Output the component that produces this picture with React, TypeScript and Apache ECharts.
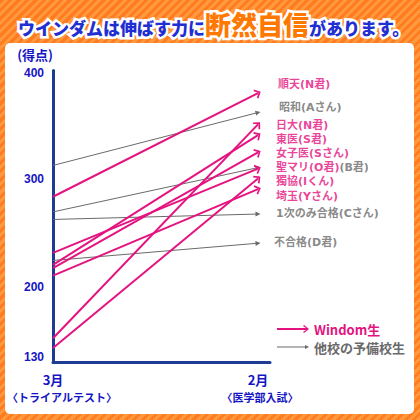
import React, { useEffect, useRef } from 'react';
import * as echarts from 'echarts';

// ---- data ----
const xTicks = [0, 1];
const xMonth = ['3月', '2月'];
const xStage = ['〈トライアルテスト〉', '〈医学部入試〉'];
const yTicks = [130, 200, 300, 400];

const windomNames = ['順天(N君)', '日大(N君)', '東医(S君)', '女子医(Sさん)', '聖マリ(O君)', '獨協(Iくん)', '埼玉(Yさん)'];
const windomMarch = [283, 152, 220, 217, 231, 143, 210];
const windomFeb = [379, 350, 340, 324, 309, 300, 290];

const otherNames = ['昭和(Aさん)', '(B君)', '1次のみ合格(Cさん)', '不合格(D君)'];
const otherMarch = [312, 269, 262, 224];
const otherFeb = [361, 310, 267, 240];

const legendNames = ['Windom生', '他校の予備校生'];

// ---- styles ----
const PINK = '#e4137f';
const GRAY = '#6a6a6a';
const BLUE = '#1515c4';
const NAVY = '#1f3c95';
const FONT = "'Noto Sans CJK JP', 'Noto Sans', sans-serif";
const LABEL_FONT = "'DejaVu Sans', 'Noto Sans CJK JP', sans-serif";

// label nudges [dx, dy] (style only)
const windomNudge = [[2, -9], [0, 1], [0, 4], [0, 1], [0, -1], [0, 3], [0, 7]];
const otherNudge = [[3, -5], null, [0, -1], [-2, -1]];

const pinkHead = 'path://M5,2 L10,7 L8.7,8.1 L5,4.4 L1.3,8.1 L0,7 Z M5,0 L5,0.01 Z M5,10 L5,10.01 Z';
const grayHead = 'path://M5,0 L10,10 L0,10 Z';
const pinkIcon = 'path://M0,3 L29,3 L26,1 L27,0 L32,4 L27,8 L26,7 L29,5 L0,5 Z';
const grayIcon = 'path://M0,3.5 L28,3.5 L28,2 L32,4 L28,6 L28,4.5 L0,4.5 Z';

export default function App() {
  const ref = useRef<HTMLDivElement>(null);

  useEffect(() => {
    if (!ref.current) return;
    const chart = echarts.init(ref.current, undefined, { renderer: 'svg' });

    const labelData: any[] = [];
    windomNames.forEach((n, i) => {
      const fmt = i === 4 ? `{p|${n}}{g|${otherNames[1]}}` : `{p|${n}}`;
      labelData.push({
        value: [1, windomFeb[i]],
        label: { formatter: fmt, offset: windomNudge[i] },
      });
    });
    otherNames.forEach((n, i) => {
      if (!otherNudge[i]) return;
      labelData.push({
        value: [1, otherFeb[i]],
        label: { formatter: `{g|${n}}`, offset: otherNudge[i] },
      });
    });

    const yLabelStyle = {
      fontFamily: 'Liberation Sans, Arial, sans-serif',
      fontSize: 12,
      fontWeight: 'bold',
      color: BLUE,
      lineHeight: 12,
    };

    const option: any = {
      animation: false,
      backgroundColor: 'transparent',
      title: {
        text: '{a|ウインダムは伸ばす力に}{b|断然自信}{a|があります。}',
        left: 13,
        top: 5,
        textStyle: {
          rich: {
            a: {
              fontFamily: FONT, fontSize: 17, fontWeight: 900, color: '#1f2fd2',
              textBorderColor: '#ffffff', textBorderWidth: 5, verticalAlign: 'bottom',
            },
            b: {
              fontFamily: FONT, fontSize: 26, fontWeight: 900, color: '#ff7800',
              textBorderColor: '#ffffff', textBorderWidth: 5, verticalAlign: 'bottom',
            },
          },
        },
      },
      graphic: [
        {
          type: 'rect', z: -10,
          shape: { x: 5, y: 43, width: 409, height: 371, r: 5 },
          style: { fill: '#ffffff' },
        },
      ],
      legend: {
        left: 272,
        top: 317,
        orient: 'vertical',
        itemWidth: 32,
        itemHeight: 8,
        itemGap: 4,
        selectedMode: false,
        textStyle: { fontFamily: FONT, fontSize: 13, lineHeight: 14, fontWeight: 'bold' },
        data: [
          { name: legendNames[0], icon: pinkIcon, itemStyle: { color: PINK, borderWidth: 0 }, textStyle: { color: PINK } },
          { name: legendNames[1], icon: grayIcon, itemStyle: { color: GRAY, borderWidth: 0 }, textStyle: { color: GRAY } },
        ],
      },
      grid: { left: 53, right: 150, top: 70.4, bottom: 58, containLabel: false, outerBoundsMode: 'none' },
      xAxis: {
        type: 'value',
        min: 0,
        max: 1.0585,
        axisLine: { show: true, lineStyle: { color: NAVY, width: 3 } },
        axisTick: { show: false },
        splitLine: { show: false },
        axisLabel: {
          customValues: xTicks,
          margin: 8,
          formatter: (v: number) => {
            const i = xTicks.indexOf(v);
            if (i < 0) return '';
            return `{m|${xMonth[i]}}\n{s${i}|${xStage[i]}}`;
          },
          rich: {
            m: { fontFamily: FONT, fontSize: 13, fontWeight: 'bold', color: BLUE, lineHeight: 18 },
            s0: { fontFamily: FONT, fontSize: 11, fontWeight: 'bold', color: BLUE, lineHeight: 18, padding: [0, 0, 0, 18] },
            s1: { fontFamily: FONT, fontSize: 11, fontWeight: 'bold', color: BLUE, lineHeight: 18, padding: [0, 0, 0, 4] },
          },
        },
      },
      yAxis: {
        type: 'value',
        min: 130,
        max: 400,
        name: '(得点)',
        nameLocation: 'end',
        nameGap: 9,
        nameTextStyle: { fontFamily: FONT, fontSize: 13, lineHeight: 13, fontWeight: 'bold', color: BLUE, align: 'right', padding: [0, 0, 0, 0] },
        axisLine: { show: true, lineStyle: { color: NAVY, width: 3 } },
        axisTick: { show: false },
        splitLine: { show: false },
        axisLabel: {
          customValues: yTicks,
          margin: 9,
          formatter: (v: number) => {
            if (v === yTicks[0]) return `{lo|${v}}`;
            if (v === yTicks[yTicks.length - 1]) return `{hi|${v}}`;
            return `{n|${v}}`;
          },
          rich: {
            n: { ...yLabelStyle, padding: [2, 0, 0, 0] },
            lo: { ...yLabelStyle, padding: [0, 0, 10, 0] },
            hi: { ...yLabelStyle, padding: [5, 0, 0, 0] },
          },
        },
      },
      series: [
        {
          type: 'lines',
          name: legendNames[1],
          coordinateSystem: 'cartesian2d',
          z: 3,
          symbol: ['none', grayHead],
          symbolSize: 5,
          itemStyle: { color: GRAY },
          lineStyle: { color: GRAY, width: 1, opacity: 1 },
          data: otherMarch.map((v, i) => ({ coords: [[0, v], [1, otherFeb[i]]] })),
        },
        {
          type: 'lines',
          name: legendNames[0],
          coordinateSystem: 'cartesian2d',
          z: 4,
          symbol: ['none', pinkHead],
          symbolSize: 10,
          itemStyle: { color: PINK },
          lineStyle: { color: PINK, width: 2, opacity: 1 },
          data: windomMarch.map((v, i) => ({ coords: [[0, v], [1, windomFeb[i]]] })),
        },
        {
          type: 'scatter',
          name: 'labels',
          z: 5,
          silent: true,
          symbolSize: 0,
          itemStyle: { color: 'transparent' },
          label: {
            show: true,
            position: 'right',
            distance: 18,
            fontFamily: LABEL_FONT,
            fontSize: 11,
            lineHeight: 11,
            fontWeight: 'bold',
            rich: {
              p: { fontFamily: LABEL_FONT, fontSize: 11, lineHeight: 11, fontWeight: 'bold', color: PINK },
              g: { fontFamily: LABEL_FONT, fontSize: 11, lineHeight: 11, fontWeight: 'bold', color: GRAY },
            },
          },
          markLine: {
            silent: true,
            symbol: 'none',
            label: { show: false },
            lineStyle: { type: 'dotted', color: '#cccccc', width: 1 },
            data: [[{ coord: [1, 410] }, { coord: [1, 130] }]],
          },
          data: labelData,
        },
      ],
    };

    chart.setOption(option);
    return () => chart.dispose();
  }, []);

  return (
    <div
      style={{
        position: 'fixed',
        left: 0,
        top: 0,
        width: 420,
        height: 420,
        background:
          'repeating-linear-gradient(135deg, #ff7d1f 0px, #ff7d1f 3px, #ff983f 3px, #ff983f 6px)',
      }}
    >
      <div ref={ref} style={{ width: 420, height: 420 }} />
    </div>
  );
}
